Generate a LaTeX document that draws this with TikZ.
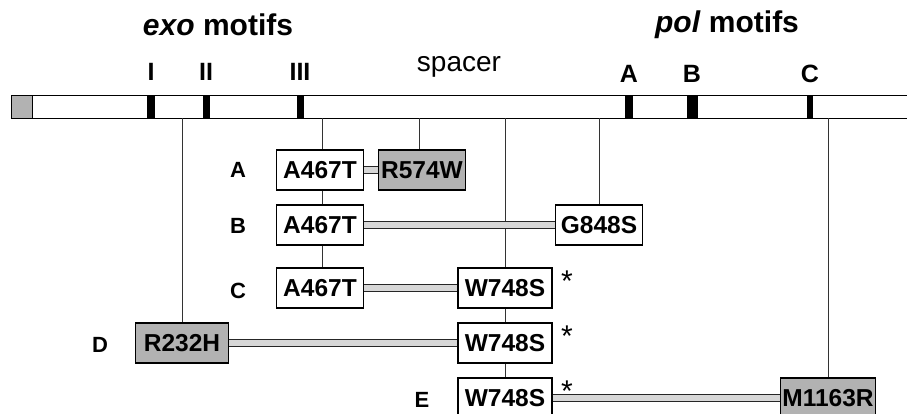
\documentclass[tikz,border=0pt]{standalone}
\usepackage{fontspec}
\setmainfont{Liberation Sans}
\usetikzlibrary{positioning}
\definecolor{hitgray}{RGB}{178,178,178}
\definecolor{linkgray}{RGB}{215,215,215}
\newcommand{\boxfont}{\fontsize{24.5}{28}\selectfont\bfseries}
\newcommand{\titlefont}{\fontsize{30}{34}\selectfont\bfseries}
\newcommand{\motiffont}{\fontsize{25}{28}\selectfont\bfseries}
\newcommand{\rowfont}{\fontsize{22}{25}\selectfont\bfseries}

\begin{document}
\begin{tikzpicture}[x=1pt, y=-1pt,
    mut/.style={rectangle, draw, line width=1.1pt, fill=white, minimum width=87pt, minimum height=40pt, inner sep=0pt, font=\boxfont},
    hit/.style={mut, fill=hitgray},
    link/.style={draw=black!85, line width=1.1pt, double=linkgray, double distance=6pt},
    stem/.style={draw=black!80, line width=0.9pt},
    tick/.style={fill=black},
    lbl/.style={inner sep=0pt, font=\rowfont}]
    \useasboundingbox (0,0) rectangle (907,413);

    % protein bar
    \draw[line width=1pt, fill=white] (11,95) rectangle (910,118);
    \draw[line width=1pt, fill=hitgray] (11,95) rectangle (32,118);
    \foreach \a/\b in {147/155, 203/210, 297/304, 625/633, 687/698, 807/813}
        \fill[tick] (\a,95) rectangle (\b,118);

    % motif labels
    \node[font=\titlefont] (exo) at (218,25) {\textit{exo} motifs};
    \node[font=\titlefont] (pol) at (727,25) {\textit{pol} motifs};
    \node[font=\motiffont] (mI) at (151,72) {I};
    \node[font=\motiffont] (mII) at (206,72) {II};
    \node[font=\motiffont] (mIII) at (300,72) {III};
    \node[font=\fontsize{28}{32}\selectfont] (spacer) at (459,67) {spacer};
    \node[font=\motiffont] (mA) at (629,74) {A};
    \node[font=\motiffont] (mB) at (692,74) {B};
    \node[font=\motiffont] (mC) at (810,74) {C};

    % positions on the bar
    \coordinate (p232) at (182,118);
    \coordinate (p467) at (322,118);
    \coordinate (p574) at (419,118);
    \coordinate (p748) at (505,118);
    \coordinate (p848) at (599,118);
    \coordinate (p1163) at (828,118);

    % mutant boxes
    \node[mut] (aA467) at (320,170) {A467T};
    \node[hit] (aR574) at (422,170) {R574W};
    \node[mut] (bA467) at (320,225) {A467T};
    \node[mut] (bG848) at (599,225) {G848S};
    \node[mut] (cA467) at (320,288) {A467T};
    \node[mut, minimum width=94pt] (cW748) at (505,288) {W748S};
    \node[hit, minimum width=93pt] (dR232) at (182,343) {R232H};
    \node[mut, minimum width=94pt] (dW748) at (505,343) {W748S};
    \node[mut, minimum width=94pt] (eW748) at (505,398) {W748S};
    \node[hit, minimum width=95pt] (eM1163) at (828,398) {M1163R};

    % row labels
    \node[lbl] (rowA) at (238,170) {A};
    \node[lbl] (rowB) at (238,226) {B};
    \node[lbl] (rowC) at (238,291) {C};
    \node[lbl] (rowD) at (100,345) {D};
    \node[lbl] (rowE) at (422,400) {E};

    % asterisks
    \node[font=\fontsize{30}{34}\selectfont] (astC) at (567,281) {*};
    \node[font=\fontsize{30}{34}\selectfont] (astD) at (567,336) {*};
    \node[font=\fontsize{30}{34}\selectfont] (astE) at (567,391) {*};

    % stems from the bar
    \draw[stem] (p232) -- (dR232);
    \draw[stem] (p467) -- (p467 |- aA467.north);
    \draw[stem] (p574) -- (p574 |- aR574.north);
    \draw[stem] (p748) -- (cW748);
    \draw[stem] (p848) -- (bG848);
    \draw[stem] (p1163) -- (eM1163);
    \draw[stem] (aA467.south -| p467) -- (bA467.north -| p467);
    \draw[stem] (bA467.south -| p467) -- (cA467.north -| p467);
    \draw[stem] (cW748) -- (dW748);
    \draw[stem] (dW748) -- (eW748);

    % double mutant links
    \draw[link] (aA467.east) -- (aR574.west);
    \draw[link] (bA467.east) -- (bG848.west);
    \draw[link] (cA467.east) -- (cW748.west);
    \draw[link] (dR232.east) -- (dW748.west);
    \draw[link] (eW748.east) -- (eM1163.west);
\end{tikzpicture}
\end{document}
